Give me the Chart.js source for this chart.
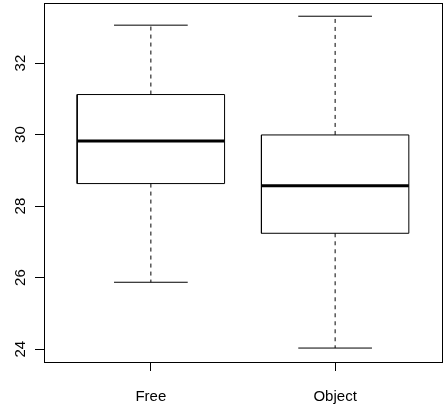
<!DOCTYPE html>
<html>
<head>
<meta charset="utf-8">
<script src="https://cdn.jsdelivr.net/npm/chart.js@4"></script>
<style>
  html, body { margin: 0; padding: 0; background: #fff; }
  #wrap { width: 446px; height: 405px; }
</style>
</head>
<body>
<div id="wrap"><canvas id="c" width="446" height="405"></canvas></div>
<script>
// ─── Data ─────────────────────────────────────────────────────────────────────
const groups      = ['Free', 'Object'];
const whiskerLow  = [25.87, 24.03];
const q1          = [28.63, 27.24];
const median      = [29.82, 28.57];
const q3          = [31.12, 29.99];
const whiskerHigh = [33.06, 33.31];
const yTicks      = [24, 26, 28, 30, 32];

// ─── Styling ─────────────────────────────────────────────────────────────────
const FONT = { family: "'Liberation Sans', Arial, sans-serif", size: 15 };
const BOX_HALF = 0.4;   // box half-width in category units
const CAP_HALF = 0.2;   // whisker cap half-width

// build line-segment data for each part, groups separated by null gaps
function segs(fn) {
  const out = [];
  groups.forEach((g, i) => { out.push(...fn(i + 1, i), { x: null, y: null }); });
  return out;
}

const boxPts = segs((x, i) => [
  { x: x - BOX_HALF, y: q1[i] }, { x: x + BOX_HALF, y: q1[i] },
  { x: x + BOX_HALF, y: q3[i] }, { x: x - BOX_HALF, y: q3[i] },
  { x: x - BOX_HALF, y: q1[i] },
]);
const medPts   = segs((x, i) => [{ x: x - BOX_HALF, y: median[i] }, { x: x + BOX_HALF, y: median[i] }]);
const upperPts = segs((x, i) => [{ x, y: q3[i] }, { x, y: whiskerHigh[i] }]);
const lowerPts = segs((x, i) => [{ x, y: q1[i] }, { x, y: whiskerLow[i] }]);
const capPts   = segs((x, i) => [
  { x: x - CAP_HALF, y: whiskerHigh[i] }, { x: x + CAP_HALF, y: whiskerHigh[i] },
  { x: null, y: null },
  { x: x - CAP_HALF, y: whiskerLow[i] }, { x: x + CAP_HALF, y: whiskerLow[i] },
]);

const line = (data, extra) => Object.assign({
  data, showLine: true, spanGaps: false, pointRadius: 0,
  borderColor: '#000', borderWidth: 1, fill: false,
}, extra);

// frame round the whole plot area, plus R-style vertical y labels
const frame = {
  id: 'frame',
  afterDraw(chart) {
    const { ctx, chartArea: a } = chart;
    const y = chart.scales.y;
    ctx.save();
    ctx.strokeStyle = '#000';
    ctx.lineWidth = 1;
    ctx.strokeRect(Math.round(a.left) + 0.5, Math.round(a.top) + 0.5,
                   Math.round(a.right - a.left), Math.round(a.bottom - a.top));
    ctx.fillStyle = '#000';
    ctx.font = `${FONT.size}px ${FONT.family}`;
    ctx.textAlign = 'center';
    ctx.textBaseline = 'alphabetic';
    yTicks.forEach(v => {
      ctx.save();
      ctx.translate(y.left + 24.5, y.getPixelForValue(v));
      ctx.rotate(-Math.PI / 2);
      ctx.fillText(String(v), 0, 0);
      ctx.restore();
    });
    ctx.restore();
  },
};

// y range and x range follow R's 4% padding
const yMin = 23.64, yMax = 33.68;

new Chart(document.getElementById('c'), {
  type: 'scatter',
  data: {
    datasets: [
      line(upperPts, { borderDash: [4, 4] }),
      line(lowerPts, { borderDash: [4, 4] }),
      line(capPts),
      line(boxPts),
      line(medPts, { borderWidth: 3, borderCapStyle: 'butt' }),
    ],
  },
  options: {
    responsive: false,
    animation: false,
    layout: { padding: { left: 0, right: 4, top: 3, bottom: 0 } },
    plugins: { legend: { display: false }, tooltip: { enabled: false } },
    scales: {
      x: {
        type: 'linear',
        min: 0.42, max: 2.58,
        afterBuildTicks: s => { s.ticks = groups.map((g, i) => ({ value: i + 1 })); },
        afterFit: s => { s.height = 43; s.paddingLeft = 0; s.paddingRight = 0; },
        ticks: {
          color: '#000', font: FONT, padding: 17, maxRotation: 0, autoSkip: false,
          callback: v => groups[v - 1] ?? '',
        },
        grid: { drawOnChartArea: false, drawTicks: true, tickLength: 9, tickColor: '#000' },
        border: { display: false },
      },
      y: {
        min: yMin, max: yMax,
        afterBuildTicks: s => { s.ticks = yTicks.map(v => ({ value: v })); },
        afterFit: s => { s.width = 44; s.paddingTop = 0; s.paddingBottom = 0; },
        ticks: { display: false },
        grid: { drawOnChartArea: false, drawTicks: true, tickLength: 9, tickColor: '#000' },
        border: { display: false },
      },
    },
  },
  plugins: [frame],
});
</script>
</body>
</html>
